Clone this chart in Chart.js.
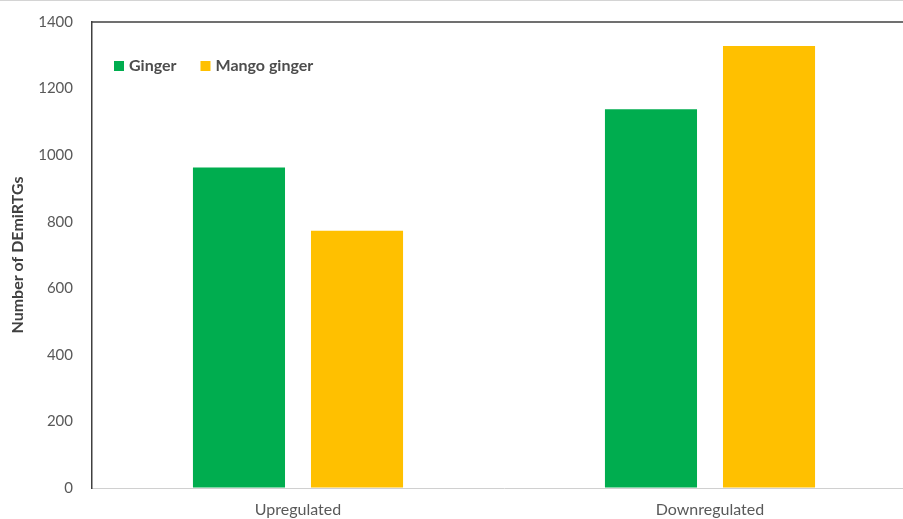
<!DOCTYPE html>
<html>
<head>
<meta charset="utf-8">
<script src="https://cdn.jsdelivr.net/npm/chart.js@4.4.1/dist/chart.umd.min.js"></script>
<style>
  html, body { margin: 0; padding: 0; background: #fff; overflow: hidden; }
  #wrap { position: relative; width: 916px; height: 519px; }
</style>
</head>
<body>
<div id="wrap"><canvas id="deChart" width="916" height="519"></canvas></div>
<script>
// -- DEmiRTG counts per regulation direction
var categories = ["Upregulated", "Downregulated"];
var seriesNames = ["Ginger", "Mango ginger"];
var gingerCounts = [963, 1138];
var mangoCounts = [773, 1328];
var yTicks = [0, 200, 400, 600, 800, 1000, 1200, 1400];

var textGray = '#595959';

// legend drawn inside the plot, top-left
var innerLegend = {
  id: 'innerLegend',
  afterDraw: function (chart) {
    var ctx = chart.ctx;
    var area = chart.chartArea;
    ctx.save();
    // thin frame line along the very top
    ctx.strokeStyle = '#d4d4d4';
    ctx.lineWidth = 1;
    ctx.beginPath();
    ctx.moveTo(0, 0.5);
    ctx.lineTo(chart.width, 0.5);
    ctx.stroke();
    // dark top border of the plot
    ctx.strokeStyle = '#404040';
    ctx.lineWidth = 1.5;
    ctx.beginPath();
    ctx.moveTo(area.left, area.top);
    ctx.lineTo(chart.width, area.top);
    ctx.stroke();

    ctx.font = 'bold 16px Lato';
    ctx.textBaseline = 'middle';
    var x = area.left + 22;
    var y = 66;
    chart.data.datasets.forEach(function (ds) {
      ctx.fillStyle = ds.backgroundColor;
      ctx.fillRect(x, y - 5, 10, 10);
      ctx.fillStyle = '#4d4d4d';
      ctx.fillText(ds.label, x + 15, y);
      x += 15 + ctx.measureText(ds.label).width + 24;
    });
    ctx.restore();
  }
};

var ctx = document.getElementById("deChart");

var deChart = new Chart(ctx, {
  type: 'bar',
  data: {
    labels: categories,
    datasets: [{
      label: seriesNames[0],
      data: gingerCounts,
      backgroundColor: '#00AD4F',
      categoryPercentage: 0.573,
      barPercentage: 0.78
    }, {
      label: seriesNames[1],
      data: mangoCounts,
      backgroundColor: '#FFC000',
      categoryPercentage: 0.573,
      barPercentage: 0.78
    }]
  },
  options: {
    responsive: false,
    animation: false,
    events: [],
    layout: { padding: { top: 22, left: 0, right: 0, bottom: 0 } },
    plugins: {
      legend: { display: false },
      tooltip: { enabled: false }
    },
    scales: {
      x: {
        grid: { display: false, drawTicks: false },
        border: { display: true, color: '#d0d0d0', width: 1 },
        ticks: { color: textGray, font: { family: 'Lato', size: 16 }, padding: 12 },
        afterFit: function (s) { s.height = 31; }
      },
      y: {
        min: 0,
        max: 1400,
        afterBuildTicks: function (s) {
          s.ticks = yTicks.map(function (v) { return { value: v }; });
        },
        // invisible tick marks keep the labels away from the axis line
        grid: { display: true, drawOnChartArea: false, drawTicks: true, tickLength: 16, color: 'rgba(0,0,0,0)' },
        border: { display: true, color: '#404040', width: 1.5 },
        ticks: {
          color: textGray,
          font: { family: 'Lato', size: 15 },
          padding: 3,
          callback: function (v) { return String(v); }
        },
        title: {
          display: true,
          text: 'Number of DEmiRTGs',
          color: '#404040',
          font: { family: 'Lato', size: 16, weight: 'bold' },
          padding: { top: 8, bottom: 0 }
        },
        afterFit: function (s) { s.width = 92; }
      }
    }
  },
  plugins: [innerLegend]
});
</script>
</body>
</html>
